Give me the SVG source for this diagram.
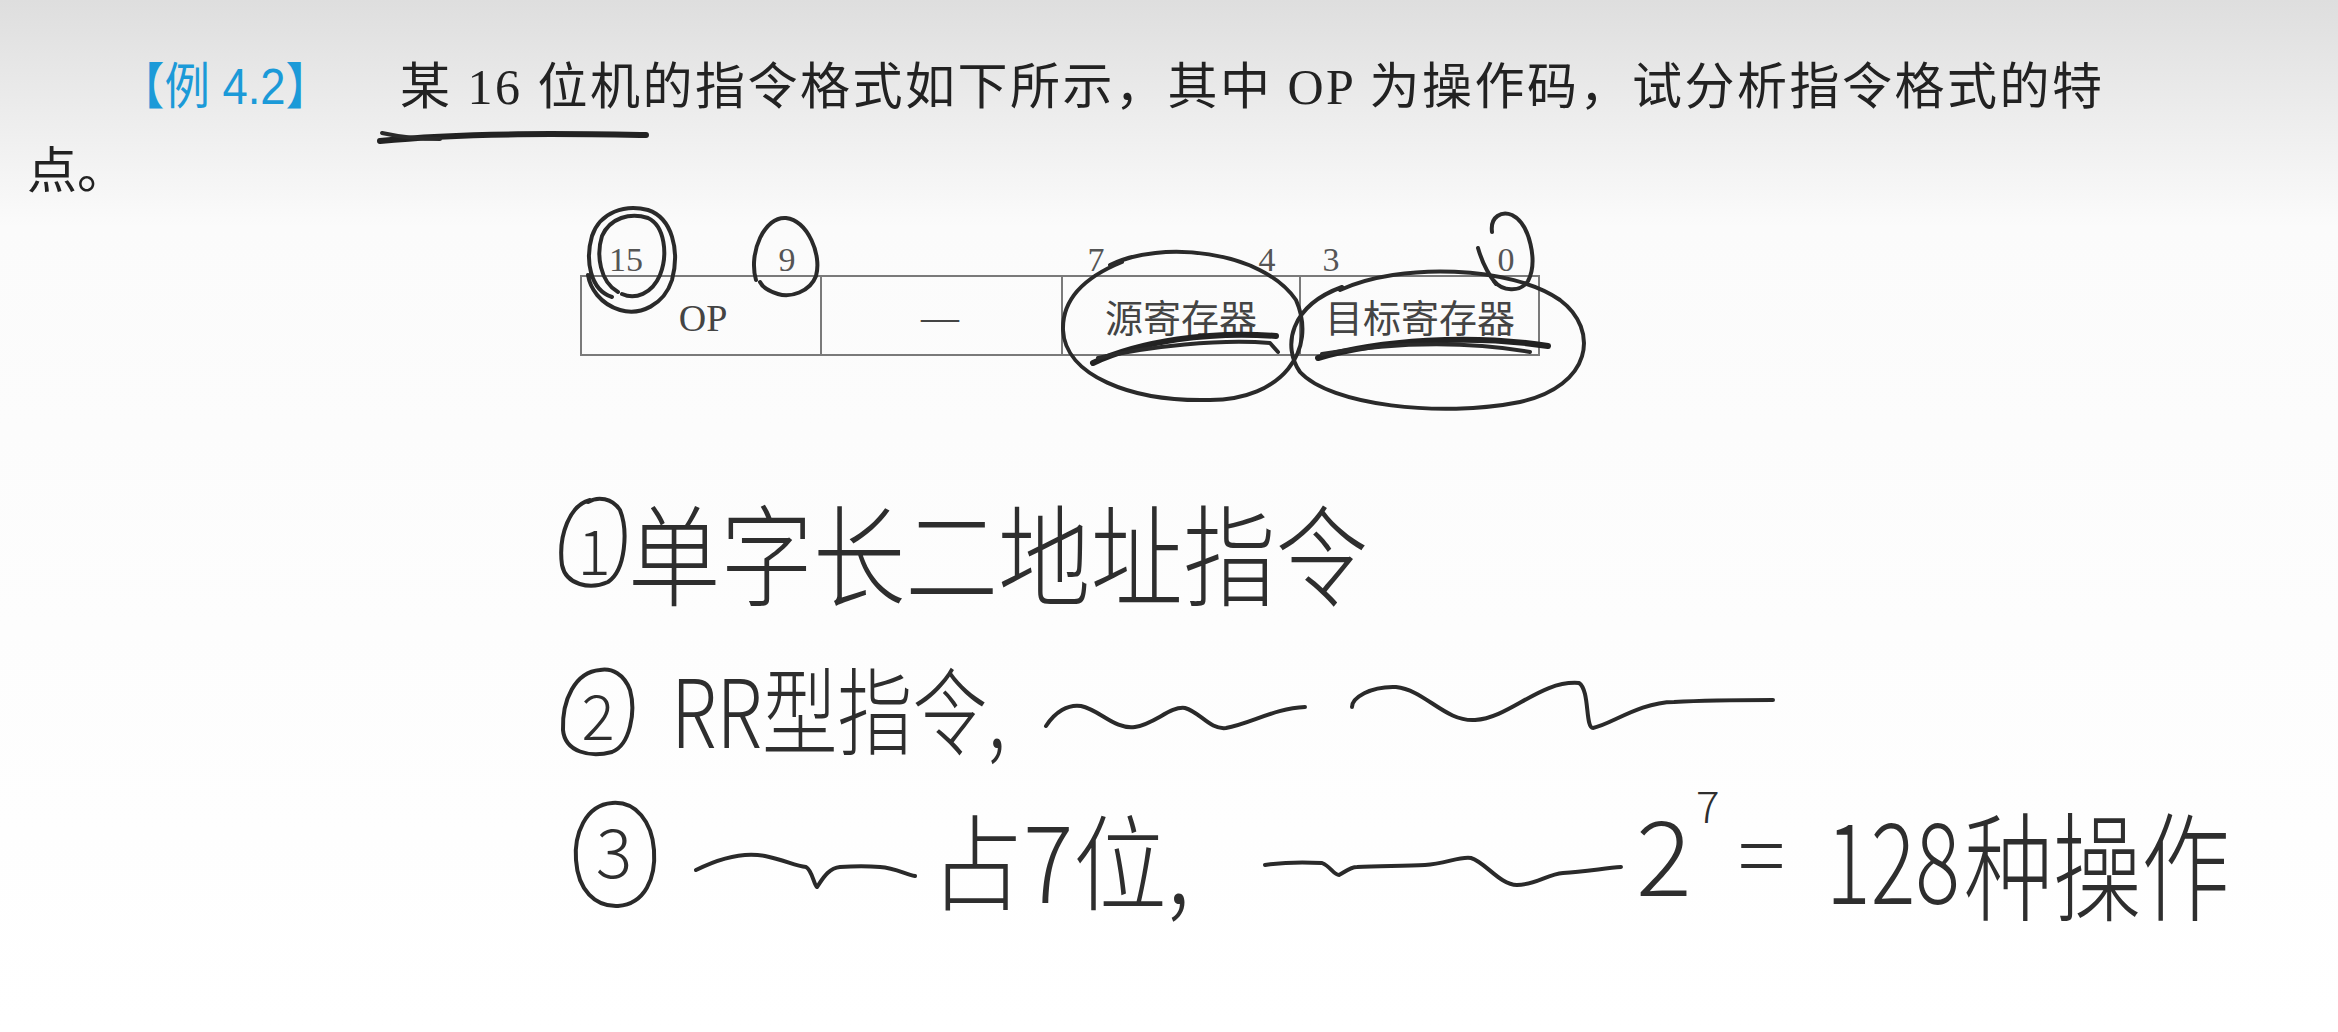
<svg xmlns="http://www.w3.org/2000/svg" width="2338" height="1032" viewBox="0 0 2338 1032">
<defs>
<linearGradient id="bg" x1="0" y1="0" x2="0" y2="1">
<stop offset="0" stop-color="#dedede"/>
<stop offset="0.22" stop-color="#fbfbfb"/>
<stop offset="1" stop-color="#ffffff"/>
</linearGradient>
<style>
.title{font-family:"Liberation Serif","Noto Sans CJK SC",serif;font-size:50px;fill:#222}
.tag{font-family:"Liberation Sans","Noto Sans CJK SC",sans-serif;font-size:50px;fill:#1b9ad8}
.cell{fill:none;stroke:#7a7a7a;stroke-width:2}
.bit{font-family:"Liberation Serif",serif;font-size:34px;fill:#555;text-anchor:middle}
.ctext{font-family:"Liberation Serif","Noto Sans CJK SC",serif;font-size:38px;fill:#444;text-anchor:middle}
.ink{fill:none;stroke:#2a2a2a;stroke-width:4;stroke-linecap:round;stroke-linejoin:round}
.brush{fill:none;stroke:#222;stroke-width:6;stroke-linecap:round}
.hand{font-family:"Noto Sans CJK SC",sans-serif;fill:#2e2e2e;font-weight:300}
</style>
</defs>
<rect x="0" y="0" width="2338" height="1032" fill="url(#bg)"/>

<g id="question">
<text class="tag" x="119" y="104" textLength="212" lengthAdjust="spacingAndGlyphs">【例 4.2】</text>
<text class="title" x="400" y="104" textLength="1702" lengthAdjust="spacing">某 16 位机的指令格式如下所示，其中 OP 为操作码，试分析指令格式的特</text>
<text class="title" x="27" y="188">点。</text>
<path class="brush" d="M380,141 C470,132 580,134 646,135"/>
<path class="ink" d="M382,133 C400,137 420,139 440,139"/>
</g>

<g id="format-table">
<g id="field-op">
<rect class="cell" x="581" y="276" width="240" height="79"/>
<text class="ctext" x="703" y="331" font-size="40">OP</text>
</g>
<g id="field-unused">
<rect class="cell" x="821" y="276" width="241" height="79"/>
<text class="ctext" x="940" y="330">—</text>
</g>
<g id="field-src">
<rect class="cell" x="1062" y="276" width="238" height="79"/>
<text class="ctext" x="1181" y="332">源寄存器</text>
</g>
<g id="field-dst">
<rect class="cell" x="1300" y="276" width="239" height="79"/>
<text class="ctext" x="1420" y="332">目标寄存器</text>
</g>
<g id="bit-numbers">
<text class="bit" x="626" y="271">15</text>
<text class="bit" x="787" y="271">9</text>
<text class="bit" x="1096" y="271">7</text>
<text class="bit" x="1267" y="271">4</text>
<text class="bit" x="1331" y="271">3</text>
<text class="bit" x="1506" y="271">0</text>
</g>
</g>

<g id="table-marks">
<path class="ink" d="M612,297 C590,290 585,260 592,236 C600,212 625,204 648,210 C672,218 680,250 672,280 C664,305 640,316 620,310 C600,304 590,288 588,275"/>
<path class="ink" d="M618,292 C600,282 596,255 602,236 C610,218 630,212 648,218 C665,226 668,255 660,275 C652,294 635,300 622,294"/>
<path class="ink" d="M756,280 C748,252 765,216 786,218 C808,221 822,255 816,276 C810,292 790,298 778,294 C768,291 762,286 760,282"/>
<path class="ink" d="M1110,265 C1160,240 1262,250 1296,300 C1318,350 1282,400 1210,400 C1130,402 1065,375 1063,330 C1062,296 1090,275 1122,262"/>
<path class="ink" d="M1340,290 C1400,262 1512,266 1560,300 C1600,330 1592,386 1520,402 C1440,418 1330,405 1300,372 C1282,346 1290,306 1342,287"/>
<path class="ink" d="M1492,232 C1490,216 1502,211 1512,215 C1530,224 1538,262 1528,281 C1520,293 1502,291 1494,281"/>
<path class="ink" d="M1478,248 C1482,262 1488,274 1496,284"/>
<path class="brush" d="M1093,363 C1140,341 1210,331 1276,336"/>
<path class="ink" d="M1098,358 C1150,346 1220,339 1270,343 L1278,352"/>
<path class="brush" d="M1318,358 C1380,340 1470,334 1548,346"/>
<path class="ink" d="M1322,354 C1390,343 1460,340 1530,352"/>
</g>

<g id="note-1">
<path class="ink" d="M590,500 C570,505 558,535 562,565 C566,585 590,590 608,582 C626,570 628,530 620,510 C612,498 598,496 588,502"/>
<text class="hand" x="594" y="575" font-size="62" text-anchor="middle">1</text>
<text class="hand" x="628" y="598" font-size="110" textLength="740" lengthAdjust="spacingAndGlyphs">单字长二地址指令</text>
</g>

<g id="note-2">
<path class="ink" d="M600,670 C575,672 562,700 563,730 C565,752 590,758 612,752 C630,745 636,712 630,690 C624,674 612,668 600,670"/>
<text class="hand" x="598" y="740" font-size="62" text-anchor="middle">2</text>
<text class="hand" x="671" y="748" font-size="95" textLength="335" lengthAdjust="spacingAndGlyphs">RR型指令,</text>
<path class="ink" d="M1046,726 C1055,712 1068,704 1081,706 C1100,710 1115,730 1135,727 C1155,724 1170,706 1185,708 C1200,712 1210,730 1226,728 C1250,724 1275,708 1305,707"/>
<path class="ink" d="M1352,707 C1352,698 1370,686 1396,687 C1425,690 1445,722 1475,720 C1510,718 1540,680 1579,683 C1590,690 1585,728 1593,728 C1610,725 1640,702 1674,702 C1710,700 1740,700 1773,700"/>
</g>

<g id="note-3">
<path class="ink" d="M612,803 C585,805 574,835 576,860 C578,890 595,907 618,906 C645,904 656,878 654,850 C652,822 636,801 612,803"/>
<text class="hand" x="614" y="878" font-size="68" text-anchor="middle">3</text>
<path class="ink" d="M696,870 C720,858 745,852 765,856 C785,860 795,866 806,867 C812,870 814,885 817,887 C822,880 828,868 840,867 C855,866 868,866 880,867 C895,868 905,874 915,876"/>
<text class="hand" x="930" y="903" font-size="104" textLength="260" lengthAdjust="spacingAndGlyphs">占7位,</text>
<path class="ink" d="M1265,865 C1285,862 1305,862 1322,863 C1330,866 1334,875 1339,875 C1345,872 1350,867 1357,867 C1380,866 1405,866 1425,865 C1445,864 1460,856 1471,858 C1485,862 1500,885 1517,885 C1535,885 1548,874 1563,873 C1585,872 1605,868 1621,867"/>
<text class="hand" x="1636" y="896" font-size="104">2</text>
<text class="hand" x="1696" y="823" font-size="44">7</text>
<text class="hand" x="1738" y="888" font-size="88">=</text>
<text class="hand" x="1826" y="904" font-size="112" textLength="134" lengthAdjust="spacingAndGlyphs">128</text>
<text class="hand" x="1964" y="912" font-size="118" textLength="266" lengthAdjust="spacingAndGlyphs">种操作</text>
</g>
</svg>
